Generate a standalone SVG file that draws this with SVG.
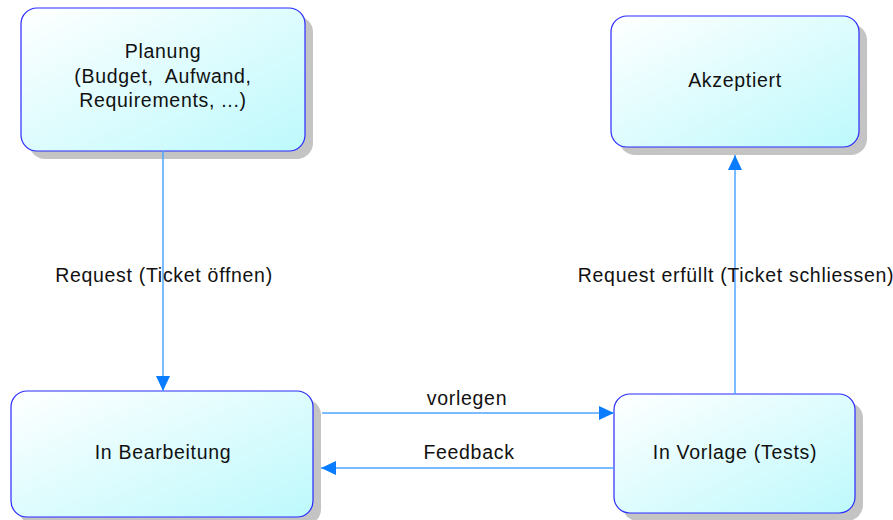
<svg xmlns="http://www.w3.org/2000/svg" width="893" height="520" viewBox="0 0 893 520">
  <defs>
    <linearGradient id="nodeFill" x1="0" y1="0" x2="1" y2="1">
      <stop offset="0" stop-color="#ffffff"/>
      <stop offset="1" stop-color="#bdf9fc"/>
    </linearGradient>
    <marker id="arrow" markerUnits="userSpaceOnUse" markerWidth="16" markerHeight="14" refX="15" refY="7" orient="auto">
      <path d="M0,0 L15,7 L0,14 Z" fill="#0a7cff"/>
    </marker>
    <style>
      .shadow { fill: #c4c4c4; }
      .box { fill: url(#nodeFill); stroke: #2a2aff; stroke-width: 1.2; }
      .label { font-family: "Liberation Sans", Arial, sans-serif; font-size: 19.5px; fill: #111111; text-anchor: middle; letter-spacing: 0.7px; }
      .edge { stroke: #4ea6ff; stroke-width: 1.5; fill: none; marker-end: url(#arrow); }
    </style>
  </defs>

  <rect width="893" height="520" fill="#ffffff"/>

  <!-- Nodes -->
  <g id="planung">
    <rect class="shadow" x="29" y="16" width="284" height="143" rx="16"/>
    <rect class="box" x="21" y="8" width="284" height="143" rx="16"/>
    <text class="label" x="163" y="58">Planung</text>
    <text class="label" x="163" y="83" xml:space="preserve">(Budget,  Aufwand,</text>
    <text class="label" x="163" y="107">Requirements, ...)</text>
  </g>

  <g id="akzeptiert">
    <rect class="shadow" x="619" y="24" width="248" height="131" rx="16"/>
    <rect class="box" x="611" y="16" width="248" height="131" rx="16"/>
    <text class="label" x="735" y="87">Akzeptiert</text>
  </g>

  <g id="in-bearbeitung">
    <rect class="shadow" x="19" y="399" width="302" height="126" rx="16"/>
    <rect class="box" x="11" y="391" width="302" height="126" rx="16"/>
    <text class="label" x="163" y="459">In Bearbeitung</text>
  </g>

  <g id="in-vorlage">
    <rect class="shadow" x="622" y="402" width="241" height="119" rx="16"/>
    <rect class="box" x="614" y="394" width="241" height="119" rx="16"/>
    <text class="label" x="735" y="459">In Vorlage (Tests)</text>
  </g>

  <!-- Connectors -->
  <g id="connectors">
    <line class="edge" x1="163" y1="151" x2="163" y2="391"/>
    <text class="label" x="164" y="282">Request (Ticket öffnen)</text>

    <line class="edge" x1="735" y1="394" x2="735" y2="155"/>
    <text class="label" x="736" y="282">Request erfüllt (Ticket schliessen)</text>

    <line class="edge" x1="322" y1="413" x2="614" y2="413"/>
    <text class="label" x="467" y="405">vorlegen</text>

    <line class="edge" x1="614" y1="468" x2="321" y2="468"/>
    <text class="label" x="469" y="459">Feedback</text>
  </g>
</svg>
